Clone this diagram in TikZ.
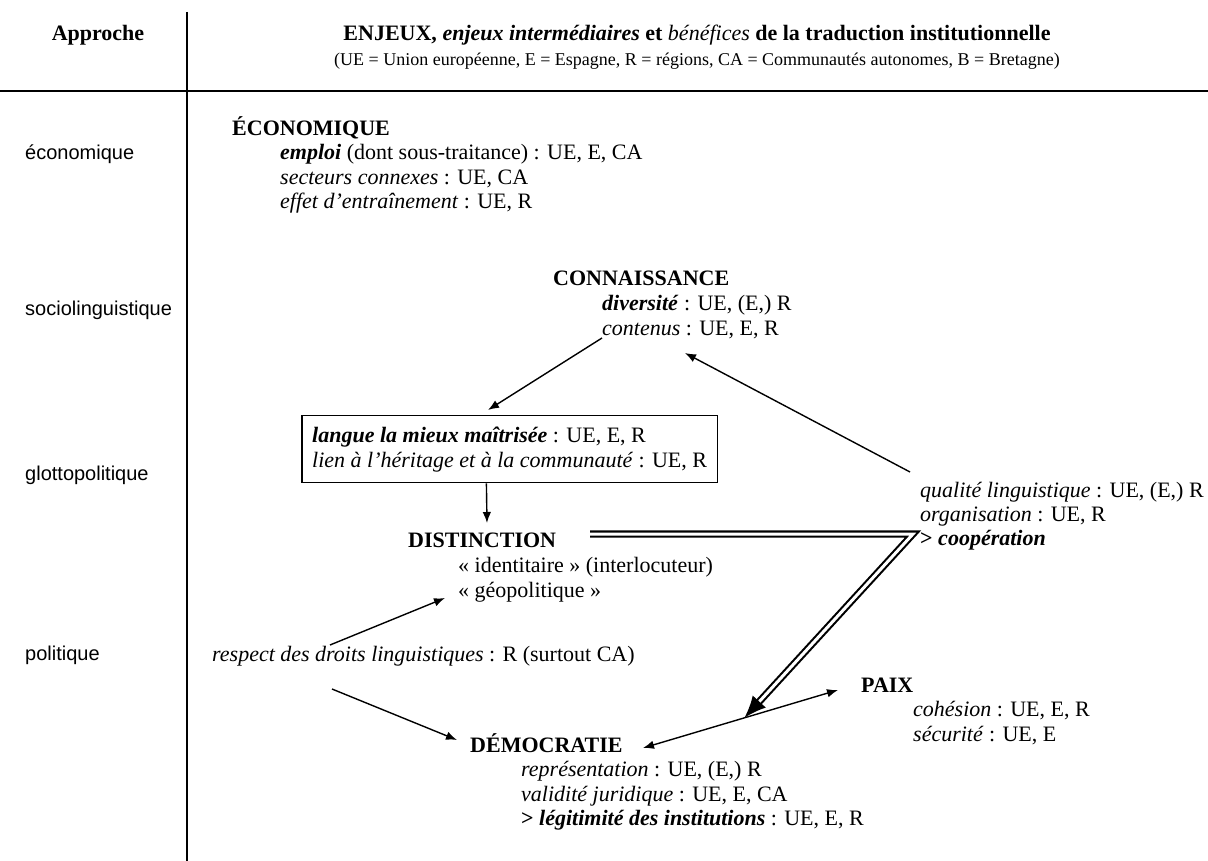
\documentclass[tikz,border=0pt]{standalone}
\usepackage{fontspec}
\setmainfont{Liberation Serif}
\setsansfont{Liberation Sans}
\usetikzlibrary{arrows.meta}
\usetikzlibrary{fit}

\begin{document}
\begin{tikzpicture}[x=1pt, y=-1pt,
    titre/.style={anchor=base, inner sep=0pt, font=\fontsize{22}{25}\selectfont\bfseries},
    approche/.style={anchor=base west, inner sep=0pt, font=\fontsize{20}{23}\selectfont\sffamily},
    enjeu/.style={anchor=base west, inner sep=0pt, font=\fontsize{22}{25}\selectfont\bfseries},
    detail/.style={anchor=base west, inner sep=0pt, font=\fontsize{22}{25}\selectfont},
    fleche/.style={-{Latex[length=11pt,width=8.5pt]}, line width=1.4pt},
    doublefleche/.style={{Latex[length=11pt,width=8.5pt]}-{Latex[length=11pt,width=8.5pt]}, line width=1.4pt},
    renvoi/.style={double, double distance=3pt, line width=2.1pt, -{Latex[length=22pt,width=18pt]}}]
    \useasboundingbox (0,0) rectangle (1208,861);

    % Table rules
    \draw[line width=2pt] (187,12) -- (187,861);
    \draw[line width=2pt] (0,91) -- (1208,91);

    % Header
    \node[titre] (approche) at (98,41) {Approche};
    \node[titre] (enjeux) at (697,41) {ENJEUX, \textit{enjeux intermédiaires} et \textmd{\textit{bénéfices}} de la traduction institutionnelle};
    \node[anchor=base, inner sep=0pt, font=\fontsize{18}{21}\selectfont] (legende) at (697,66) {(UE = Union européenne, E = Espagne, R = régions, CA = Communautés autonomes, B = Bretagne)};

    % Approaches
    \node[approche] (eco) at (25,160) {économique};
    \node[approche] (socio) at (25,316) {sociolinguistique};
    \node[approche] (glotto) at (25,480) {glottopolitique};
    \node[approche] (poli) at (25,660) {politique};

    % Economique
    \node[enjeu] (economique) at (232,136) {ÉCONOMIQUE};
    \node[detail] (emploi) at (280,160) {\textbf{\textit{emploi}} (dont sous-traitance) : UE, E, CA};
    \node[detail] (secteurs) at (280,185) {\textit{secteurs connexes} : UE, CA};
    \node[detail] (effet) at (280,209) {\textit{effet d’entraînement} : UE, R};

    % Connaissance
    \node[enjeu] (connaissance) at (553,285) {CONNAISSANCE};
    \node[detail] (diversite) at (602,310) {\textbf{\textit{diversité}} : UE, (E,) R};
    \node[detail] (contenus) at (602,335) {\textit{contenus} : UE, E, R};

    % Boxed stakes
    \node[detail] (langue) at (312,442) {\textbf{\textit{langue la mieux maîtrisée}} : UE, E, R};
    \node[detail] (heritage) at (312,467) {\textit{lien à l’héritage et à la communauté} : UE, R};
    \node[draw, line width=1.2pt, inner xsep=10pt, inner ysep=11pt, fit=(langue)(heritage)] (cadre) {};

    % Distinction
    \node[enjeu] (distinction) at (408,547) {DISTINCTION};
    \node[detail] (identitaire) at (458,572) {« identitaire » (interlocuteur)};
    \node[detail] (geopolitique) at (458,597) {« géopolitique »};

    % Qualite
    \node[detail] (qualite) at (920,497) {\textit{qualité linguistique} : UE, (E,) R};
    \node[detail] (organisation) at (920,521) {\textit{organisation} : UE, R};
    \node[detail] (cooperation) at (920,545) {\textbf{> \textit{coopération}}};

    % Respect
    \node[detail] (respect) at (212,661) {\textit{respect des droits linguistiques} : R (surtout CA)};

    % Paix
    \node[enjeu] (paix) at (861,692) {PAIX};
    \node[detail] (cohesion) at (913,716) {\textit{cohésion} : UE, E, R};
    \node[detail] (securite) at (913,741) {\textit{sécurité} : UE, E};

    % Democratie
    \node[enjeu] (democratie) at (470,752) {DÉMOCRATIE};
    \node[detail] (representation) at (521,776) {\textit{représentation} : UE, (E,) R};
    \node[detail] (validite) at (521,801) {\textit{validité juridique} : UE, E, CA};
    \node[detail] (legitimite) at (521,825) {\textbf{> \textit{légitimité des institutions}} : UE, E, R};

    % Arrows
    \draw[fleche] ([yshift=-3pt]contenus.base west) -- ([shift={(176pt,32pt)}]langue.base west);
    \draw[fleche] ([shift={(-10pt,25pt)}]qualite.base west) -- ([shift={(83pt,-18pt)}]contenus.base west);
    \draw[fleche] ([xshift=185pt]cadre.south west) -- ([shift={(79pt,24pt)}]distinction.base west);
    \draw[fleche] ([shift={(118pt,16pt)}]respect.base west) -- ([shift={(-13pt,-1pt)}]geopolitique.base west);
    \draw[fleche] ([shift={(120pt,-28pt)}]respect.base west) -- ([shift={(-13pt,12pt)}]democratie.base west);
    \draw[doublefleche] ([shift={(173pt,4pt)}]democratie.base west) -- coordinate[pos=0.52] (impact) ([shift={(-23pt,2pt)}]paix.base west);

    % Double link
    \draw[renvoi] ([shift={(182pt,13pt)}]distinction.base west) -- ([shift={(-7pt,11pt)}]cooperation.base west) -- (impact);
\end{tikzpicture}
\end{document}
